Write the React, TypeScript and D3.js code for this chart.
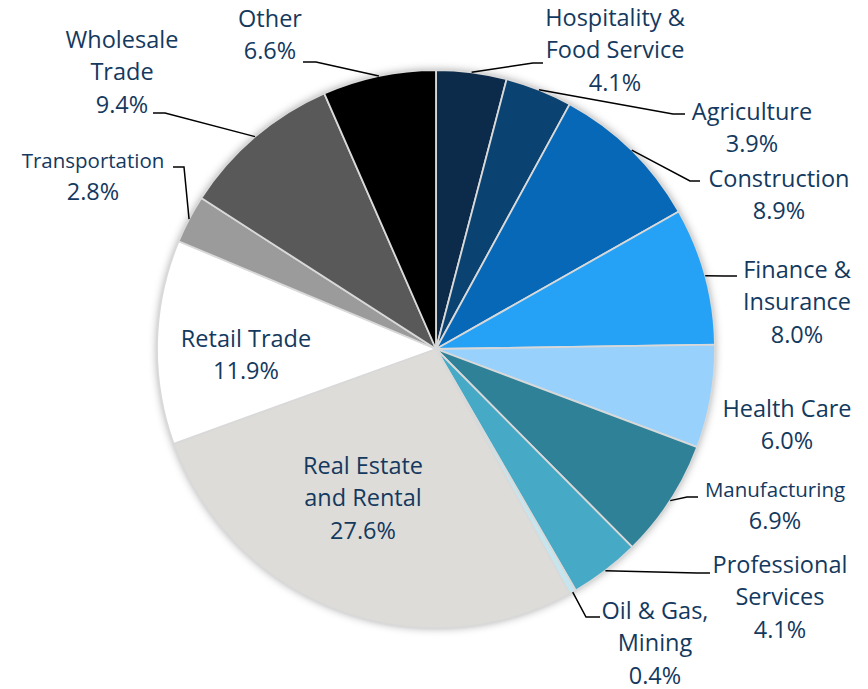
import React from "react";
import * as d3 from "d3";

const categories = [
  "Hospitality & Food Service",
  "Agriculture",
  "Construction",
  "Finance & Insurance",
  "Health Care",
  "Manufacturing",
  "Professional Services",
  "Oil & Gas, Mining",
  "Real Estate and Rental",
  "Retail Trade",
  "Transportation",
  "Wholesale Trade",
  "Other",
];
const shares = [4.1, 3.9, 8.9, 8.0, 6.0, 6.9, 4.1, 0.4, 27.6, 11.9, 2.8, 9.4, 6.6];
const colors = [
  "#0c2b4b", "#0a4271", "#0668b6", "#25a2f6", "#98d1fb", "#2f8198",
  "#46a9c6", "#c6e6ef", "#dedcd8", "#ffffff", "#9b9b9b", "#595959", "#000000",
];
const labelLines = [
  ["Hospitality &", "Food Service"],
  ["Agriculture"],
  ["Construction"],
  ["Finance &", "Insurance"],
  ["Health Care"],
  ["Manufacturing"],
  ["Professional", "Services"],
  ["Oil & Gas,", "Mining"],
  ["Real Estate", "and Rental"],
  ["Retail Trade"],
  ["Transportation"],
  ["Wholesale", "Trade"],
  ["Other"],
];

// label layout: text centre x, first baseline, name font size, leader elbow + end (null = inside)
type Layout = { x: number; y: number; fs: number; leader: [number, number][] | null };
const layout: Layout[] = [
  { x: 615, y: 26, fs: 23.5, leader: [[533, 63], [543, 63]] },
  { x: 752, y: 120, fs: 23.5, leader: [[673, 114], [685, 114]] },
  { x: 779, y: 187, fs: 23.5, leader: [[690, 181], [700, 181]] },
  { x: 797, y: 278, fs: 23.5, leader: [[724, 276], [737, 276]] },
  { x: 787, y: 417, fs: 23.5, leader: null },
  { x: 775, y: 497, fs: 20.5, leader: [[687, 497], [698, 497]] },
  { x: 780, y: 573, fs: 23.5, leader: [[697, 573], [710, 573]] },
  { x: 655, y: 619, fs: 23.5, leader: [[586, 617], [600, 617]] },
  { x: 363, y: 474, fs: 23.5, leader: null },
  { x: 246, y: 347, fs: 23.5, leader: null },
  { x: 93, y: 168, fs: 20.5, leader: [[184, 167], [173, 167]] },
  { x: 122, y: 48, fs: 23.5, leader: [[165, 113], [153, 113]] },
  { x: 270, y: 27, fs: 23.5, leader: [[316, 62], [303, 62]] },
];

const cx = 436;
const cy = 349;
const radius = 279;
const pctSize = 23.5;
const textColor = "#14395e";

export default function App() {
  const data = categories.map((c, i) => ({ name: c, value: shares[i], i }));
  const pie = d3.pie<any>().sort(null).value((d) => d.value);
  const arcs = pie(data);
  const arc = d3.arc<any>().innerRadius(0).outerRadius(radius);

  return (
    <svg width={868} height={689} style={{ position: "absolute", left: 0, top: 0 }}>
      <defs>
        <filter id="sh" x="-10%" y="-10%" width="120%" height="120%">
          <feDropShadow dx="0" dy="0" stdDeviation="4" floodColor="#000" floodOpacity="0.35" />
        </filter>
      </defs>
      <g transform={`translate(${cx},${cy})`}>
        <circle r={radius} fill="#ddd" filter="url(#sh)" />
        {arcs.map((a, i) => (
          <path key={i} d={arc(a) as string} fill={colors[i]} stroke="#d9d9d9" strokeWidth={1.8} />
        ))}
      </g>
      {arcs.map((a, i) => {
        const L = layout[i];
        if (!L.leader) return null;
        const mid = (a.startAngle + a.endAngle) / 2;
        const sx = cx + radius * Math.sin(mid);
        const sy = cy - radius * Math.cos(mid);
        const pts: [number, number][] = [[sx, sy], ...L.leader];
        return (
          <path key={"l" + i} d={d3.line()(pts) as string} fill="none" stroke="#000" strokeWidth={1.5} />
        );
      })}
      {arcs.map((a, i) => {
        const L = layout[i];
        const names = labelLines[i];
        const pct = d3.format(".1f")(shares[i]) + "%";
        return (
          <text
            key={"t" + i}
            textAnchor="middle"
            fill={textColor}
            fontFamily="'Open Sans', sans-serif"
          >
            {names.map((s, k) => (
              <tspan key={k} x={L.x} y={L.y + k * 32.3} fontSize={L.fs}>
                {s}
              </tspan>
            ))}
            <tspan x={L.x} y={L.y + names.length * 32.3} fontSize={pctSize}>
              {pct}
            </tspan>
          </text>
        );
      })}
    </svg>
  );
}
